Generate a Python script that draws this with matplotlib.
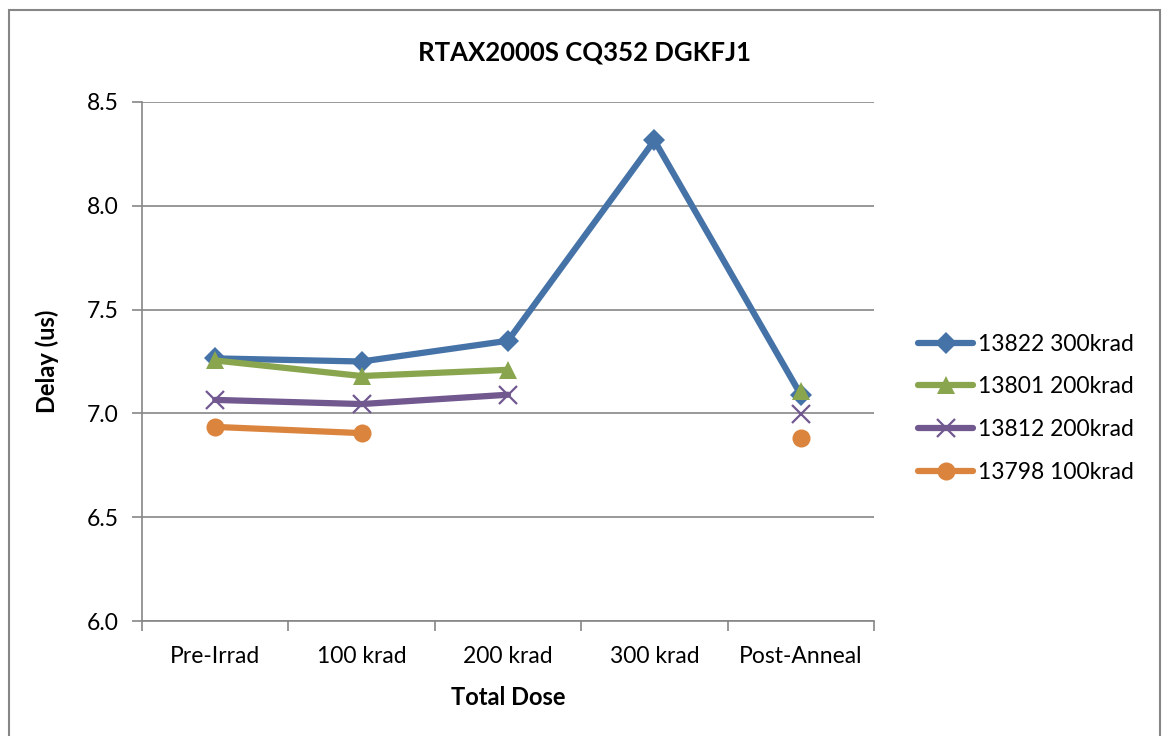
import matplotlib.pyplot as plt
import numpy as np
from matplotlib.patches import Rectangle

plt.rcParams["font.family"] = ["Lato", "DejaVu Sans"]

categories = ["Pre-Irrad", "100 krad", "200 krad", "300 krad", "Post-Anneal"]
s13822 = [7.265, 7.25, 7.35, 8.315, 7.09]
s13801 = [7.255, 7.18, 7.21, np.nan, 7.11]
s13812 = [7.065, 7.045, 7.09, np.nan, 6.995]
s13798 = [6.935, 6.905, np.nan, np.nan, 6.88]

series = [
    ("13822 300krad", s13822, "#4572A7", "D", 11),
    ("13801 200krad", s13801, "#89A54E", "^", 13),
    ("13812 200krad", s13812, "#71588F", "x", 13),
    ("13798 100krad", s13798, "#DB843D", "o", 13),
]

fig = plt.figure(figsize=(11.62, 7.36), dpi=100)
ax = fig.add_axes([142 / 1162, 1 - 621 / 736, 732 / 1162, 519 / 736])

x = np.arange(len(categories))
for label, vals, color, mk, ms in series:
    ax.plot(x, vals, color=color, lw=4.5, marker=mk, markersize=ms,
            markeredgewidth=1.6 if mk == "x" else 0, markeredgecolor=color,
            label=label, solid_capstyle="round", zorder=3)

ax.set_xlim(-0.5, len(categories) - 0.5)
ax.set_ylim(6.0, 8.5)
ax.set_yticks(np.arange(6.0, 8.51, 0.5))
ax.set_yticklabels([f"{v:.1f}" for v in np.arange(6.0, 8.51, 0.5)])
ax.set_xticks(x)
ax.set_xticklabels(categories)
ax.set_xticks(np.arange(-0.5, len(categories), 1.0), minor=True)
ax.tick_params(axis="x", which="major", length=0, pad=18, labelsize=16.5)
ax.tick_params(axis="x", which="minor", length=7, width=1.2, color="#868686", direction="out")
ax.tick_params(axis="y", length=7, width=1.2, color="#868686", labelsize=16.5, pad=10)
ax.yaxis.grid(True, color="#868686", lw=1.2)
ax.set_axisbelow(True)
for side in ["top", "right"]:
    ax.spines[side].set_visible(False)
for side in ["left", "bottom"]:
    ax.spines[side].set_color("#868686")
    ax.spines[side].set_linewidth(1.2)

fig.text(585 / 1162, 1 - 52 / 736, "RTAX2000S CQ352 DGKFJ1", fontsize=18.5,
         fontweight="bold", ha="center", va="center")
ax.set_xlabel("Total Dose", fontsize=17, fontweight="bold", labelpad=14)
ax.set_ylabel("Delay (us)", fontsize=17, fontweight="bold", labelpad=20)

ax.legend(loc="center left", bbox_to_anchor=(1.045, 0.41), frameon=False, borderpad=0,
          fontsize=16.5, handlelength=2.4, handletextpad=0.2, labelspacing=0.95)

fig.patches.append(Rectangle((9 / 1162, -0.01), 1151 / 1162, 1 - 10 / 736 + 0.01,
                             transform=fig.transFigure, fill=False,
                             edgecolor="#868686", lw=1.5))

fig.savefig("out.png", dpi=100)
